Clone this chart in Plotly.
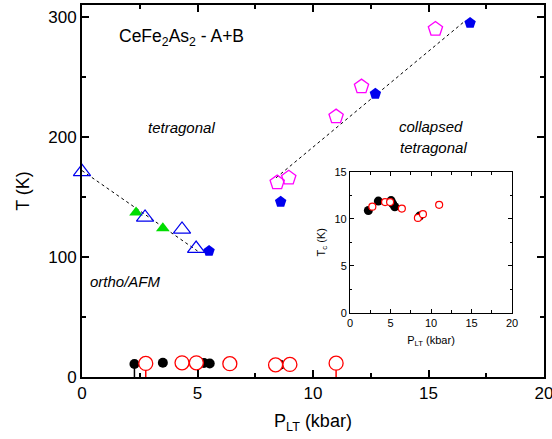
import plotly.graph_objects as go

# ---- data ----
tri_open_P = [0.0, 2.73, 4.33, 4.94]
tri_open_T = [171, 133, 123, 107]
tri_green_P = [2.34, 3.5]
tri_green_T = [137, 124]
pent_blue_P = [5.5, 8.6, 12.7, 16.8]
pent_blue_T = [105, 146, 236, 295]
pent_mag_P = [8.45, 8.95, 11.0, 12.1, 15.3]
pent_mag_T = [162, 166, 217, 242, 290]
line1_P = [0.0, 5.0]
line1_T = [172, 105]
line2_P = [8.4, 16.6]
line2_T = [166, 297]

sc_black_P = [2.27, 3.5, 5.07, 5.28, 5.53, 8.58]
sc_black_T = [10.9, 11.9, 11.95, 11.6, 11.3, 10.3]
sc_black_down = [10.9, 0, 0, 0, 0, 0]
sc_red_P = [2.76, 4.33, 4.95, 6.4, 8.38, 9.0, 11.0]
sc_red_T = [11.3, 11.8, 11.8, 11.1, 10.1, 10.5, 11.5]
sc_red_down = [11.3, 0, 0, 0, 0, 0, 11.5]

FONT = "Liberation Sans, Arial, sans-serif"

fig = go.Figure()

# dashed lines
fig.add_trace(go.Scatter(x=line1_P, y=line1_T, mode="lines",
                         line=dict(color="black", width=1, dash="3px,3px"), showlegend=False))
fig.add_trace(go.Scatter(x=line2_P, y=line2_T, mode="lines",
                         line=dict(color="black", width=1, dash="3px,3px"), showlegend=False))

fig.add_trace(go.Scatter(x=tri_green_P, y=tri_green_T, mode="markers",
                         marker=dict(symbol="triangle-up", size=12, color="#00dd00"), showlegend=False))
fig.add_trace(go.Scatter(x=tri_open_P, y=tri_open_T, mode="markers", cliponaxis=False,
                         marker=dict(symbol="triangle-up-open", size=15, color="#0000ee",
                                     line=dict(width=1.2)), showlegend=False))
fig.add_trace(go.Scatter(x=pent_blue_P, y=pent_blue_T, mode="markers",
                         marker=dict(symbol="pentagon", size=12, color="#0000ee"), showlegend=False))
fig.add_trace(go.Scatter(x=pent_mag_P, y=pent_mag_T, mode="markers",
                         marker=dict(symbol="pentagon-open", size=15, color="#ff00ff",
                                     line=dict(width=1.3)), showlegend=False))

# superconducting Tc in main
fig.add_trace(go.Scatter(x=sc_black_P, y=sc_black_T, mode="markers",
                         error_y=dict(type="data", symmetric=False, array=[0]*len(sc_black_P),
                                      arrayminus=sc_black_down, width=0, thickness=1.5, color="black"),
                         marker=dict(symbol="circle", size=10, color="black"), showlegend=False))
fig.add_trace(go.Scatter(x=sc_red_P, y=sc_red_T, mode="markers",
                         error_y=dict(type="data", symmetric=False, array=[0]*len(sc_red_P),
                                      arrayminus=sc_red_down, width=0, thickness=1.5, color="red"),
                         marker=dict(symbol="circle", size=14, color="white",
                                     line=dict(color="red", width=1.3)), showlegend=False))

# inset
fig.add_trace(go.Scatter(x=sc_black_P, y=sc_black_T, mode="markers", xaxis="x2", yaxis="y2",
                         marker=dict(symbol="circle", size=9, color="black"), showlegend=False))
fig.add_trace(go.Scatter(x=sc_red_P, y=sc_red_T, mode="markers", xaxis="x2", yaxis="y2",
                         marker=dict(symbol="circle", size=7, color="white",
                                     line=dict(color="red", width=1.2)), showlegend=False))

axis_common = dict(showline=True, linecolor="black", mirror="allticks", ticks="inside",
                   tickcolor="black", showgrid=False, zeroline=False, automargin=False,
                   ticklabeloverflow="allow")

fig.update_layout(
    width=552, height=439,
    margin=dict(l=82, r=8, t=5, b=62),
    plot_bgcolor="white", paper_bgcolor="white",
    font=dict(family=FONT, color="black"),
    xaxis=dict(range=[0, 20], dtick=5, tick0=0, linewidth=2, ticklen=7, tickwidth=1.5,
               tickfont=dict(size=17),
               minor=dict(ticks="inside", dtick=2.5, ticklen=4, tickcolor="black"),
               title=dict(text="P<sub>LT</sub> (kbar)", font=dict(size=18), standoff=12),
               **axis_common),
    yaxis=dict(range=[0, 310], tickvals=[0, 100, 200, 300], linewidth=2, ticklen=7, tickwidth=1.5,
               tickfont=dict(size=17),
               minor=dict(ticks="inside", dtick=50, ticklen=4, tickcolor="black"),
               title=dict(text="T (K)", font=dict(size=18), standoff=14),
               **axis_common),
    xaxis2=dict(domain=[0.58, 0.931], anchor="y2", range=[0, 20], dtick=5, linewidth=1,
                ticklen=4, tickfont=dict(size=11),
                minor=dict(ticks="inside", dtick=2.5, ticklen=2.5, tickcolor="black"),
                title=dict(text="P<sub>LT</sub> (kbar)", font=dict(size=11), standoff=8),
                **axis_common),
    yaxis2=dict(domain=[0.173, 0.551], anchor="x2", range=[0, 15], dtick=5, linewidth=1,
                ticklen=4, tickfont=dict(size=11),
                minor=dict(ticks="inside", dtick=2.5, ticklen=2.5, tickcolor="black"),
                title=dict(text="T<sub>c</sub> (K)", font=dict(size=11), standoff=6),
                **axis_common),
    annotations=[
        dict(text="CeFe<sub>2</sub>As<sub>2</sub> - A+B", x=4.3, y=283, xref="x", yref="y",
             showarrow=False, font=dict(size=17.5)),
        dict(text="<i>tetragonal</i>", x=4.3, y=208, xref="x", yref="y",
             showarrow=False, font=dict(size=15)),
        dict(text="<i>ortho/AFM</i>", x=1.9, y=80, xref="x", yref="y",
             showarrow=False, font=dict(size=15)),
        dict(text="<i>collapsed</i>", x=15.1, y=209, xref="x", yref="y",
             showarrow=False, font=dict(size=15)),
        dict(text="<i>tetragonal</i>", x=15.2, y=191, xref="x", yref="y",
             showarrow=False, font=dict(size=15)),
    ],
)

fig.write_html("out.html")
